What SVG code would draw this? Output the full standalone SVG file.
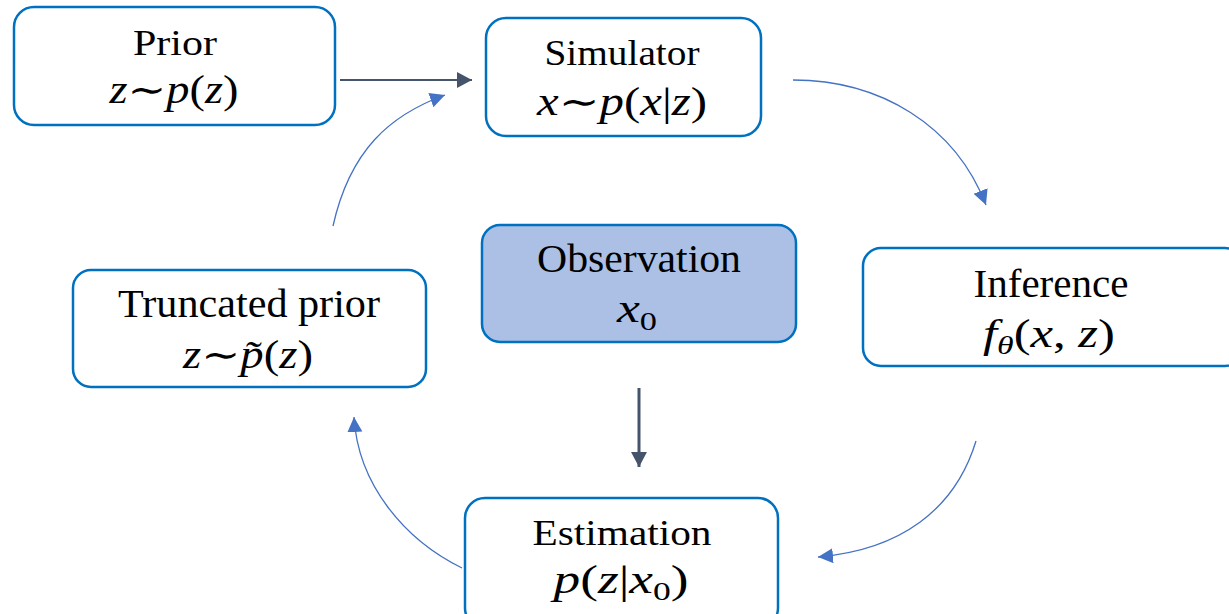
<svg xmlns="http://www.w3.org/2000/svg" width="1229" height="614" viewBox="0 0 1229 614">
<style>
.box{fill:#ffffff;stroke:#0070C0;stroke-width:2.5}
.obs{fill:#ABC0E4;stroke:#0070C0;stroke-width:2.5}
text{font-family:"Liberation Serif","DejaVu Serif",serif;fill:#000;text-anchor:middle}
.s{font-size:36px}
.l{font-size:40px}
.m{font-size:39px}
.i{font-style:italic}
.sub{font-size:26px}
.blue{fill:none;stroke:#4472C4;stroke-width:1.3}
.dark{fill:none;stroke:#44546A}
</style>
<defs>
<marker id="ab" markerUnits="userSpaceOnUse" markerWidth="16" markerHeight="16" refX="15" refY="7.5" orient="auto">
<path d="M0,0 L15,7.5 L0,15 z" fill="#4472C4"/>
</marker>
<marker id="ad" markerUnits="userSpaceOnUse" markerWidth="16" markerHeight="17" refX="15" refY="8" orient="auto">
<path d="M0,0 L15,8 L0,16 z" fill="#44546A"/>
</marker>
</defs>
<g id="connectors">
<line class="dark" x1="340" y1="80" x2="472" y2="80" stroke-width="2" marker-end="url(#ad)"/>
<line class="dark" x1="639" y1="388" x2="639" y2="467" stroke-width="3" marker-end="url(#ad)"/>
<path class="blue" d="M793,80 C880,80 955,125 986,205" marker-end="url(#ab)"/>
<path class="blue" d="M976,441 C955,510 900,550 818,557" marker-end="url(#ab)"/>
<path class="blue" d="M462,568 C405,540 358,485 354,417" marker-end="url(#ab)"/>
<path class="blue" d="M333,226 C350,150 390,115 445,95" marker-end="url(#ab)"/>
</g>
<g id="prior">
<rect class="box" x="14" y="7" width="321" height="118" rx="20"/>
<text class="s" x="175" y="55" textLength="84" lengthAdjust="spacingAndGlyphs">Prior</text>
<text class="m" x="174" y="103" textLength="129" lengthAdjust="spacingAndGlyphs"><tspan class="i">z</tspan>∼<tspan class="i">p</tspan>(<tspan class="i">z</tspan>)</text>
</g>
<g id="simulator">
<rect class="box" x="486" y="18" width="275" height="118" rx="20"/>
<text class="s" x="622" y="65" textLength="155" lengthAdjust="spacingAndGlyphs">Simulator</text>
<text class="m" x="622" y="115" textLength="170" lengthAdjust="spacingAndGlyphs"><tspan class="i">x</tspan>∼<tspan class="i">p</tspan>(<tspan class="i">x</tspan>|<tspan class="i">z</tspan>)</text>
</g>
<g id="observation">
<rect class="obs" x="482" y="225" width="314" height="117" rx="18"/>
<text class="l" x="639" y="272" textLength="204" lengthAdjust="spacingAndGlyphs">Observation</text>
<text class="m" x="637" y="322" textLength="40" lengthAdjust="spacingAndGlyphs"><tspan class="i">x</tspan><tspan class="sub" dy="8">0</tspan></text>
</g>
<g id="inference">
<rect class="box" x="863" y="248" width="380" height="118" rx="18"/>
<text class="l" x="1051" y="297" textLength="155" lengthAdjust="spacingAndGlyphs">Inference</text>
<text class="m" x="1049" y="347" textLength="132" lengthAdjust="spacingAndGlyphs"><tspan class="i">f</tspan><tspan class="i sub" dy="7">θ</tspan><tspan dy="-7">(</tspan><tspan class="i">x</tspan>, <tspan class="i">z</tspan>)</text>
</g>
<g id="estimation">
<rect class="box" x="465" y="498" width="313" height="130" rx="20"/>
<text class="s" x="622" y="545" textLength="179" lengthAdjust="spacingAndGlyphs">Estimation</text>
<text class="m" x="621" y="593" textLength="135" lengthAdjust="spacingAndGlyphs"><tspan class="i">p</tspan>(<tspan class="i">z</tspan>|<tspan class="i">x</tspan><tspan class="sub" dy="7">0</tspan><tspan dy="-7">)</tspan></text>
</g>
<g id="truncated-prior">
<rect class="box" x="73" y="270" width="353" height="117" rx="18"/>
<text class="l" x="249" y="317" textLength="262" lengthAdjust="spacingAndGlyphs">Truncated prior</text>
<text class="m" x="248" y="368" textLength="130" lengthAdjust="spacingAndGlyphs"><tspan class="i">z</tspan>∼<tspan class="i">p̃</tspan>(<tspan class="i">z</tspan>)</text>
</g>
</svg>
